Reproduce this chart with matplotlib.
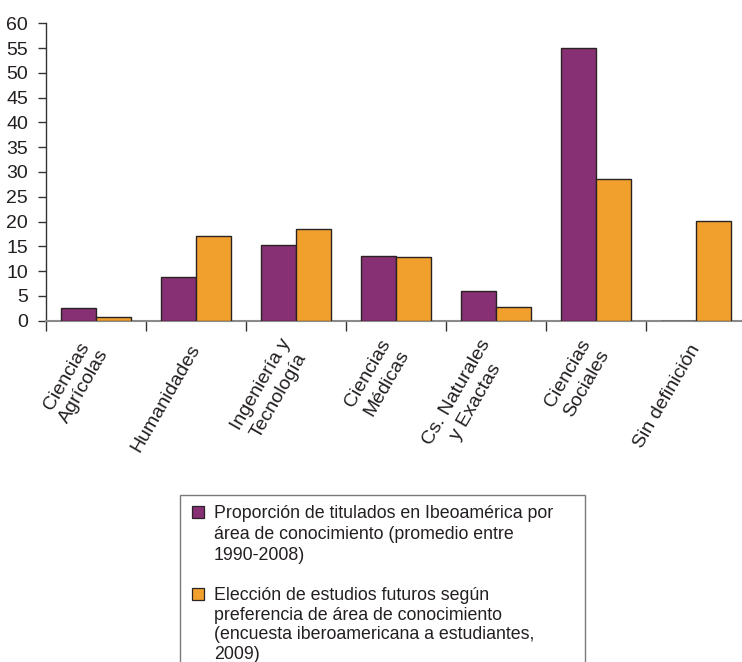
import matplotlib
matplotlib.use("Agg")
import matplotlib.pyplot as plt
from matplotlib.patches import Rectangle
import numpy as np

plt.rcParams['font.family'] = ['Liberation Sans', 'DejaVu Sans']

categories = ["Ciencias\nAgrícolas", "Humanidades", "Ingeniería y\nTecnología",
              "Ciencias\nMédicas", "Cs. Naturales\ny Exactas", "Ciencias\nSociales",
              "Sin definición"]
titulados = [2.6, 8.9, 15.3, 13.1, 6.0, 55.1, 0.0]
eleccion = [0.75, 17.0, 18.4, 12.85, 2.8, 28.6, 20.1]
yticks = list(range(0, 61, 5))

legend_lines_1 = ["Proporción de titulados en Ibeoamérica por",
                  "área de conocimiento (promedio entre",
                  "1990-2008)"]
legend_lines_2 = ["Elección de estudios futuros según",
                  "preferencia de área de conocimiento",
                  "(encuesta iberoamericana a estudiantes,",
                  "2009)"]

PURPLE = "#873073"
ORANGE = "#f1a02d"
TXT = "#231f20"

W, H = 742, 662
fig = plt.figure(figsize=(W / 100, H / 100), dpi=100)
ax = fig.add_axes([46 / W, 1 - 320.7 / H, 700 / W, (320.7 - 23.3) / H])

x = np.arange(len(categories))
bw = 0.35
ax.bar(x - bw / 2, titulados, bw, color=PURPLE, edgecolor="#2b2224", linewidth=1.0, zorder=3)
ax.bar(x + bw / 2, eleccion, bw, color=ORANGE, edgecolor="#2b2224", linewidth=1.0, zorder=3)

ax.set_xlim(-0.5, len(categories) - 0.5)
ax.set_ylim(0, 60)
ax.set_yticks(yticks)
ax.set_yticklabels([str(v) for v in yticks], fontsize=14, color=TXT)

ax.set_xticks(np.arange(len(categories) + 1) - 0.5)
ax.set_xticklabels([])
ax.set_xticks(x, minor=True)
ax.set_xticklabels(categories, minor=True, rotation=60, ha="right",
                   va="center", rotation_mode="anchor", fontsize=14,
                   color=TXT, multialignment="center", linespacing=1.3)
ax.tick_params(axis="x", which="minor", length=0, pad=18)
ax.tick_params(axis="x", which="major", length=7, width=1, color="#333333", direction="out")
ax.tick_params(axis="y", length=6, width=1, color="#333333", pad=7, direction="out")

for s in ["top", "right"]:
    ax.spines[s].set_visible(False)
ax.spines["left"].set_color("#333333")
ax.spines["left"].set_linewidth(1.0)
ax.spines["bottom"].set_color("#8a8a8a")
ax.spines["bottom"].set_linewidth(1.5)

# Legend box (drawn in figure pixel space)
def fx(px):
    return px / W

def fy(py):
    return 1 - py / H

fig.patches.append(Rectangle((fx(180), fy(700)), fx(585) - fx(180), fy(495) - fy(700),
                             transform=fig.transFigure, facecolor="white",
                             edgecolor="#7a7a7a", linewidth=1.0, zorder=1))
fig.patches.append(Rectangle((fx(192), fy(518)), 12 / W, 12 / H,
                             transform=fig.transFigure, facecolor=PURPLE,
                             edgecolor="#2b2224", linewidth=0.9, zorder=2))
fig.patches.append(Rectangle((fx(192), fy(600)), 12 / W, 12 / H,
                             transform=fig.transFigure, facecolor=ORANGE,
                             edgecolor="#2b2224", linewidth=0.9, zorder=2))

for i, line in enumerate(legend_lines_1):
    fig.text(fx(214), fy(518 + 21 * i), line, fontsize=12.8, color=TXT, va="baseline", ha="left")
for i, line in enumerate(legend_lines_2):
    fig.text(fx(214), fy(600 + 19.7 * i), line, fontsize=12.8, color=TXT, va="baseline", ha="left")

fig.savefig("out.png", dpi=100, facecolor="white")
